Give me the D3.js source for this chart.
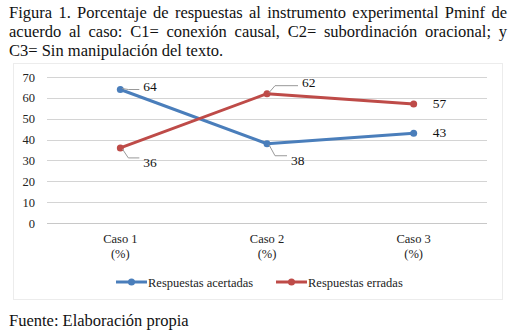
<!DOCTYPE html>
<html>
<head>
<meta charset="utf-8">
<script src="https://cdn.jsdelivr.net/npm/d3@7"></script>
<style>
  body { margin: 0; background: #fff; }
  #page { position: relative; width: 517px; height: 330px; font-family: "Liberation Serif", "Times New Roman", serif; }
  #title { position: absolute; left: 9px; top: 3px; width: 498px; font-size: 16.5px; line-height: 19px; text-align: justify; color: #111; }
  #source { position: absolute; left: 9px; top: 311px; font-size: 16.5px; color: #111; }
  svg { position: absolute; left: 0; top: 0; }
</style>
</head>
<body>
<div id="page">
  <div id="title">Figura 1. Porcentaje de respuestas al instrumento experimental Pminf de acuerdo al caso: C1= conexión causal, C2= subordinación oracional; y C3= Sin manipulación del texto.</div>
  <svg id="chart" width="517" height="330"></svg>
  <div id="source">Fuente: Elaboración propia</div>
</div>
<script>
// chart data
const categories = ['Caso 1', 'Caso 2', 'Caso 3'];
const acertadas = [64, 38, 43];
const erradas = [36, 62, 57];
const yTicks = [0, 10, 20, 30, 40, 50, 60, 70];
const seriesNames = ['Respuestas acertadas', 'Respuestas erradas'];
const seriesColors = ['#4a7ebb', '#be4b48'];
// label offsets relative to each point (dx, dy) and whether a leader line is drawn
const labelOffsets = [
    [[23, -3, true], [24, 17, true], [19, 0, false]],
    [[23, 15, true], [35, -11, true], [19, 0, false]]
];

const margin = {left: 47, right: 30, top: 77, bottom: 107};
const svg = d3.select('#chart');
const width = 517, height = 330;

// outer chart frame
svg.append('rect')
    .attr('x', 13.5).attr('y', 63.5)
    .attr('width', 489).attr('height', 236)
    .attr('fill', 'none')
    .attr('stroke', '#d9d9d9')
    .attr('stroke-dasharray', '1,1');

const x = d3.scaleBand()
    .domain(categories)
    .range([margin.left, width - margin.right]);

const y = d3.scaleLinear()
    .domain([0, 70])
    .range([height - margin.bottom, margin.top]);

// grid lines
svg.append('g')
    .selectAll('line')
    .data(yTicks)
    .enter()
    .append('line')
    .attr('x1', margin.left).attr('x2', width - margin.right)
    .attr('y1', d => Math.round(y(d)) + 0.5).attr('y2', d => Math.round(y(d)) + 0.5)
    .attr('stroke', d => d === 0 ? '#c8c8c8' : '#d4d4d4')
    .attr('stroke-width', 1);

// y axis labels
const yAxis = d3.axisLeft(y).tickValues(yTicks).tickSize(0).tickPadding(0);
svg.append('g')
    .attr('transform', 'translate(35,0)')
    .call(yAxis)
    .call(g => g.select('.domain').remove())
    .selectAll('text')
    .attr('font-family', '"Liberation Serif", serif')
    .attr('font-size', 12.5)
    .attr('fill', '#222');

// x category labels
const xl = svg.append('g')
    .selectAll('text')
    .data(categories)
    .enter()
    .append('text')
    .attr('x', d => x(d) + x.bandwidth() / 2)
    .attr('y', 243)
    .attr('text-anchor', 'middle')
    .attr('font-family', '"Liberation Serif", serif')
    .attr('font-size', 12.5)
    .attr('fill', '#222');
xl.append('tspan').text(d => d);
xl.append('tspan')
    .attr('x', d => x(d) + x.bandwidth() / 2)
    .attr('dy', 15)
    .text('(%)');

const line = d3.line()
    .x((d, i) => x(categories[i]) + x.bandwidth() / 2)
    .y(d => y(d));

[acertadas, erradas].forEach(function(values, s){
    let g = svg.append('g');
    g.append('path')
        .attr('d', line(values))
        .attr('fill', 'none')
        .attr('stroke', seriesColors[s])
        .attr('stroke-width', 3)
        .attr('stroke-linejoin', 'round');
    g.selectAll('circle')
        .data(values)
        .enter()
        .append('circle')
        .attr('cx', (d, i) => x(categories[i]) + x.bandwidth() / 2)
        .attr('cy', d => y(d))
        .attr('r', 3.5)
        .attr('fill', seriesColors[s]);
    // data labels
    values.forEach(function(v, i){
        let px = x(categories[i]) + x.bandwidth() / 2;
        let py = y(v);
        let off = labelOffsets[s][i];
        if(off[2]){
            let ly = off[1] < 0 ? py + off[1] + 3 : py + off[1] - 5;
            g.append('polyline')
                .attr('points', [[px + 2, py + (off[1] < 0 ? -1 : 1)], [px + 8, ly], [off[0] + px - 4, ly]].join(' '))
                .attr('fill', 'none')
                .attr('stroke', '#999')
                .attr('stroke-width', 1);
        }
        g.append('text')
            .attr('x', px + off[0])
            .attr('y', py + off[1] + 4)
            .attr('font-family', '"Liberation Serif", serif')
            .attr('font-size', 13.5)
            .attr('fill', '#111')
            .text(v);
    });
});

// legend
const legendX = [116, 276];
seriesNames.forEach(function(name, s){
    let lg = svg.append('g').attr('transform', 'translate(' + legendX[s] + ',282)');
    lg.append('line')
        .attr('x1', 0).attr('x2', 31)
        .attr('stroke', seriesColors[s])
        .attr('stroke-width', 3);
    lg.append('circle')
        .attr('cx', 15.5).attr('r', 3.5)
        .attr('fill', seriesColors[s]);
    lg.append('text')
        .attr('x', 32).attr('y', 4.5)
        .attr('font-family', '"Liberation Serif", serif')
        .attr('font-size', 12.5)
        .attr('fill', '#222')
        .text(name);
});
</script>
</body>
</html>
